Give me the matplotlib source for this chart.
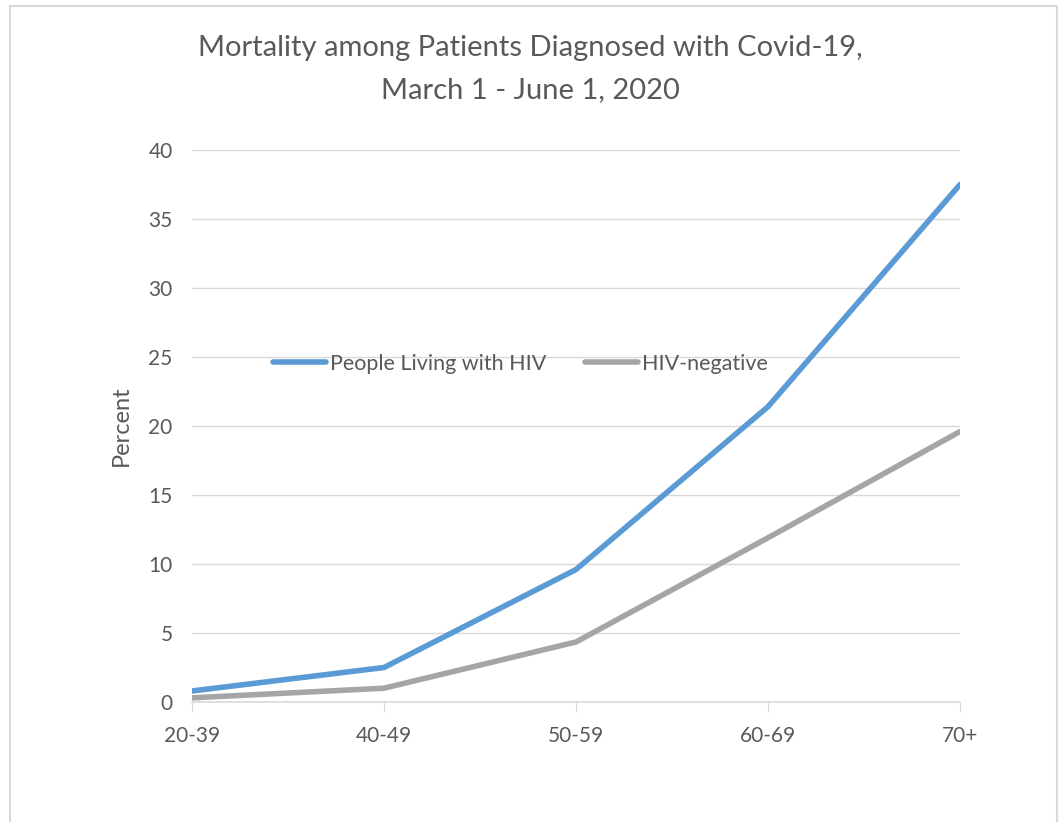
import matplotlib
matplotlib.use("Agg")
import matplotlib.pyplot as plt
from matplotlib.patches import Rectangle

categories = ["20-39", "40-49", "50-59", "60-69", "70+"]
hiv_pos = [0.8, 2.5, 9.6, 21.4, 37.5]
hiv_neg = [0.3, 1.0, 4.35, 11.9, 19.6]
yticks = [0, 5, 10, 15, 20, 25, 30, 35, 40]

plt.rcParams['font.family'] = ['Lato', 'DejaVu Sans']
W, H = 1061, 822
fig = plt.figure(figsize=(W/100, H/100), dpi=100)
ax = fig.add_axes([192/W, 1-702/H, (960-192)/W, (702-150)/H])

txt = '#595959'
x = list(range(len(categories)))
ax.plot(x, hiv_pos, color='#5B9BD5', lw=4, solid_capstyle='round', solid_joinstyle='round', label='People Living with HIV', zorder=3)
ax.plot(x, hiv_neg, color='#A5A5A5', lw=4, solid_capstyle='round', solid_joinstyle='round', label='HIV-negative', zorder=3)

ax.set_xlim(0, 4)
ax.set_ylim(0, 40)
ax.set_xticks(x)
ax.set_xticklabels(categories)
ax.set_yticks(yticks)
ax.grid(axis='y', color='#D9D9D9', lw=1)
ax.set_axisbelow(True)
for s in ['top', 'right', 'left']:
    ax.spines[s].set_visible(False)
ax.spines['bottom'].set_color('#D9D9D9')
ax.spines['bottom'].set_linewidth(1.2)
ax.tick_params(axis='y', length=0, pad=14, labelsize=15, labelcolor=txt)
ax.tick_params(axis='x', length=7, color='#D9D9D9', pad=10, labelsize=15, labelcolor=txt)
ax.set_ylabel('Percent', fontsize=17, color=txt, labelpad=12)

fig.suptitle('Mortality among Patients Diagnosed with Covid-19,\nMarch 1 - June 1, 2020',
             fontsize=21, color=txt, y=1-35/H, va='top', linespacing=1.75)

leg = ax.legend(loc='center', bbox_to_anchor=((520-192)/(960-192), (702-364)/(702-150)),
                ncol=2, frameon=False, fontsize=15.5, handlelength=2.5, handletextpad=0.15,
                columnspacing=1.8, labelcolor=txt)

fig.patches.append(Rectangle((10/W, -0.05), (1057-10)/W, 1.05 - 6/H, transform=fig.transFigure,
                             fill=False, edgecolor='#D9D9D9', lw=1.5))

fig.savefig('out.png', dpi=100, facecolor='white')
